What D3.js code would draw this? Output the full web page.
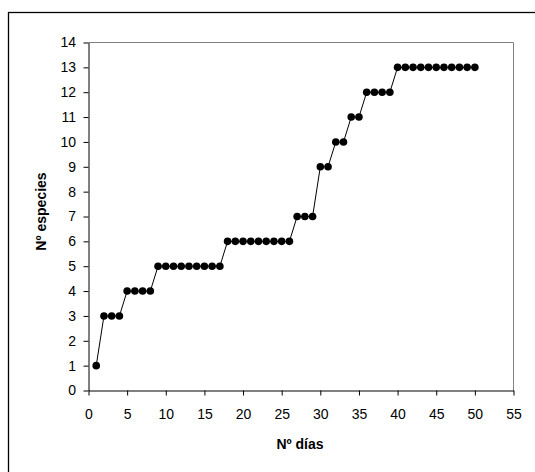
<!DOCTYPE html>
<html lang="es">
<head>
    <meta charset="utf-8">
    <title>Nº especies</title>
    <script src="https://d3js.org/d3.v7.min.js"></script>
    <style>
        body { margin: 0; background: #fff; }
        * { font-family: "Liberation Sans", Arial, sans-serif; }
        .tick text { font-size: 14px; fill: #000; }
        .axis-title { font-size: 14px; font-weight: bold; }
    </style>
</head>
<body>
<svg id="chart" width="535" height="472"></svg>
<script>
    // data
    const days = d3.range(1, 51);
    const species = [1, 3, 3, 3, 4, 4, 4, 4,
                     5, 5, 5, 5, 5, 5, 5, 5, 5,
                     6, 6, 6, 6, 6, 6, 6, 6, 6,
                     7, 7, 7, 9, 9, 10, 10, 11, 11,
                     12, 12, 12, 12,
                     13, 13, 13, 13, 13, 13, 13, 13, 13, 13, 13];
    const xTicks = d3.range(0, 56, 5);
    const yTicks = d3.range(0, 15, 1);

    const points = days.map((d, i) => ({day: d, n: species[i]}));

    const plot = {left: 88.5, right: 513.5, top: 42.5, bottom: 390.5};

    const x = d3.scaleLinear().domain([0, 55]).range([plot.left, plot.right]);
    const y = d3.scaleLinear().domain([0, 14]).range([plot.bottom, plot.top]);

    const svg = d3.select("#chart");

    // outer chart frame (cut off at right and bottom)
    svg.append("rect")
        .attr("x", 8.5).attr("y", 12.5)
        .attr("width", 540).attr("height", 480)
        .attr("fill", "none").attr("stroke", "#000").attr("stroke-width", 1.3);

    // plot area frame, gray top and right
    svg.append("path")
        .attr("d", `M${plot.left},${plot.top}H${plot.right}V${plot.bottom}`)
        .attr("fill", "none").attr("stroke", "#808080");

    const xAxis = svg.append("g")
        .attr("transform", `translate(0,${plot.bottom})`)
        .call(d3.axisBottom(x).tickValues(xTicks).tickSize(5).tickPadding(14).tickSizeOuter(0));
    const yAxis = svg.append("g")
        .attr("transform", `translate(${plot.left},0)`)
        .call(d3.axisLeft(y).tickValues(yTicks).tickSize(5).tickPadding(7.5).tickSizeOuter(0));

    [xAxis, yAxis].forEach(g => {
        g.select(".domain").attr("stroke", "#000");
        g.selectAll(".tick line").attr("stroke", "#000");
        g.attr("font-family", null).attr("font-size", null);
    });

    // line and markers
    svg.append("path")
        .datum(points)
        .attr("fill", "none")
        .attr("stroke", "#000")
        .attr("stroke-width", 1)
        .attr("d", d3.line().x(d => x(d.day)).y(d => y(d.n)));

    svg.selectAll("circle.pt")
        .data(points)
        .enter().append("circle").attr("class", "pt")
        .attr("cx", d => x(d.day))
        .attr("cy", d => y(d.n))
        .attr("r", 3.8)
        .attr("fill", "#000");

    // axis titles
    svg.append("text").attr("class", "axis-title")
        .attr("x", 300)
        .attr("y", 449)
        .attr("text-anchor", "middle")
        .text("Nº días");

    svg.append("text").attr("class", "axis-title")
        .attr("transform", "translate(46,211.5) rotate(-90)")
        .attr("text-anchor", "middle")
        .text("Nº especies");
</script>
</body>
</html>
